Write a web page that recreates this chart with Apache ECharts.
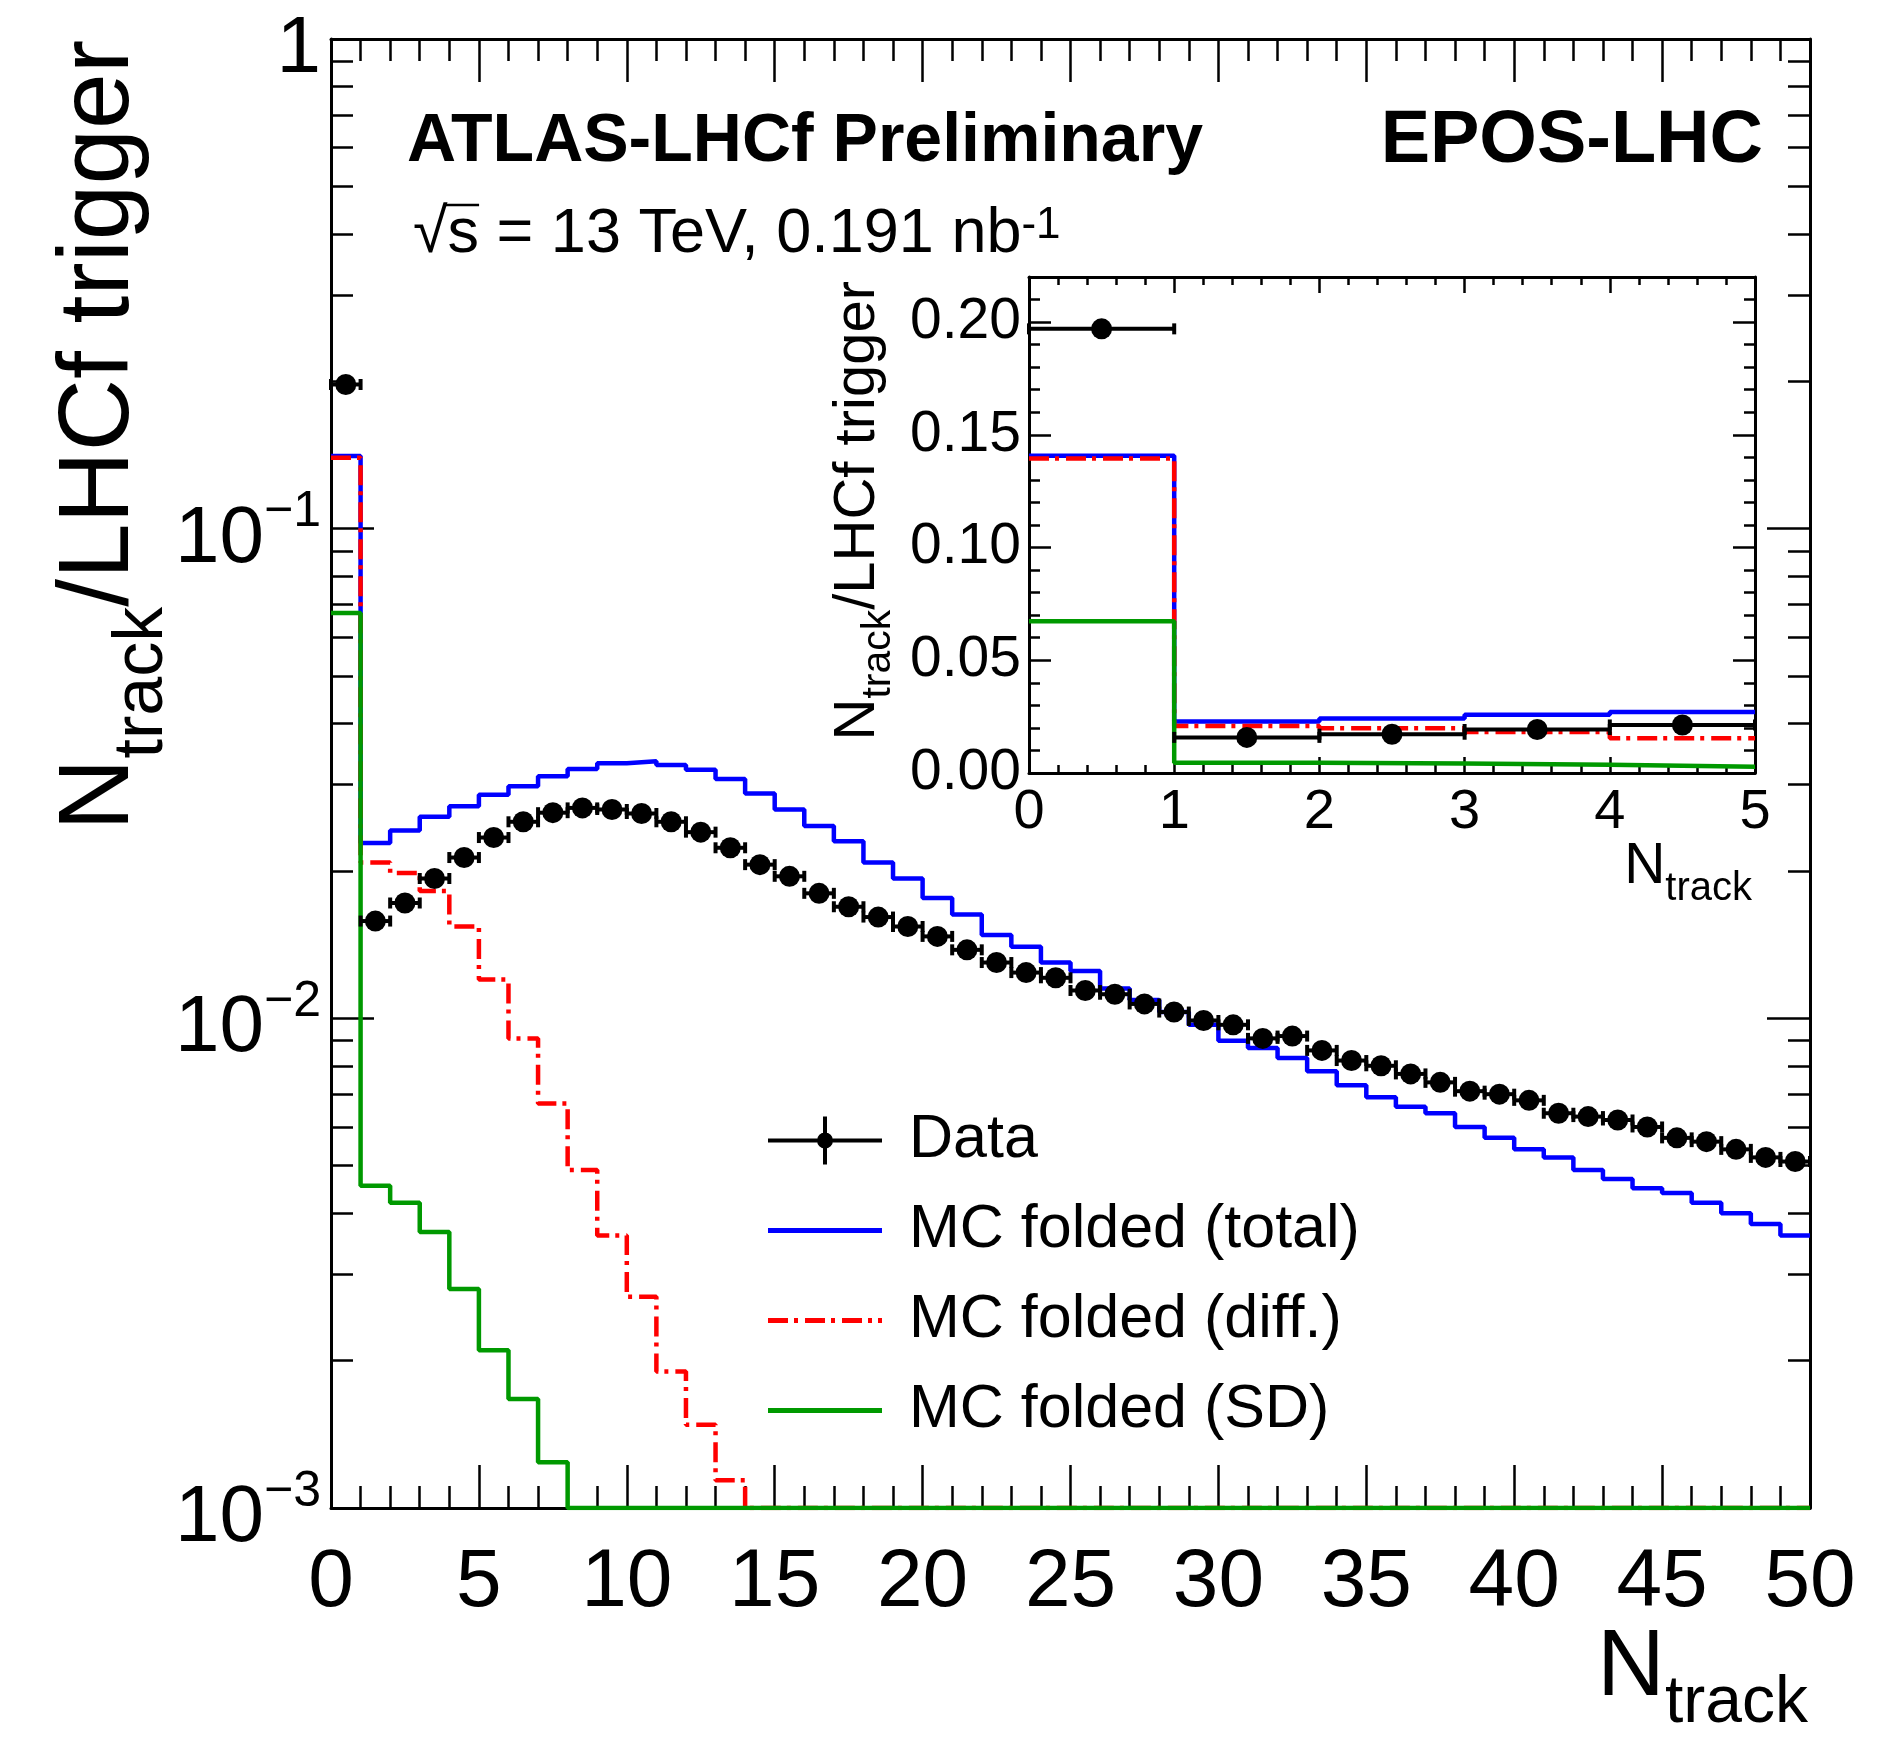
<!DOCTYPE html>
<html>
<head>
<meta charset="utf-8">
<title>ATLAS-LHCf Ntrack</title>
<script src="https://cdn.jsdelivr.net/npm/echarts@6.0.0/dist/echarts.min.js"></script>
<style>
  html, body { margin: 0; padding: 0; background: #fff; }
  #main { width: 1896px; height: 1737px; }
</style>
</head>
<body>
<div id="main"></div>
<script>
// one value per unit-width bin, Ntrack = 0 .. 49
var dataVals = [0.197, 0.0158, 0.0172, 0.0193, 0.0213, 0.0234, 0.0252, 0.0263, 0.0269, 0.0267,
  0.0262, 0.0252, 0.0240, 0.0223, 0.0206, 0.0195, 0.0180, 0.0169, 0.0161, 0.0154,
  0.0147, 0.0138, 0.0130, 0.0124, 0.0121, 0.0114, 0.0112, 0.0107, 0.0103, 0.0099,
  0.0097, 0.0091, 0.0092, 0.0086, 0.0082, 0.0080, 0.0077, 0.0074, 0.0071, 0.0070,
  0.0068, 0.0064, 0.0063, 0.0062, 0.0060, 0.0057, 0.0056, 0.0054, 0.0052, 0.0051];

var mcTotal = [0.1407, 0.0228, 0.0242, 0.0258, 0.0271, 0.0286, 0.0298, 0.0312, 0.0323, 0.0332,
  0.0335, 0.0329, 0.0322, 0.0308, 0.0288, 0.0267, 0.0247, 0.0230, 0.0208, 0.0193,
  0.0176, 0.0163, 0.0148, 0.0140, 0.0130, 0.0125, 0.0115, 0.0109, 0.0103, 0.0097,
  0.0090, 0.0087, 0.0083, 0.0078, 0.0073, 0.0069, 0.0066, 0.0064, 0.0060, 0.0057,
  0.0054, 0.0052, 0.0049, 0.0047, 0.0045, 0.0044, 0.0042, 0.0040, 0.0038, 0.0036];

// bins below the axis floor are drawn on the 1e-3 line, as in the picture
var mcDiff = [0.1395, 0.0208, 0.0198, 0.0182, 0.0154, 0.0120, 0.0091, 0.0067, 0.0049, 0.0036,
  0.0027, 0.0019, 0.00148, 0.00114, 0.001, 0.001, 0.001, 0.001, 0.001, 0.001,
  0.001, 0.001, 0.001, 0.001, 0.001, 0.001, 0.001, 0.001, 0.001, 0.001,
  0.001, 0.001, 0.001, 0.001, 0.001, 0.001, 0.001, 0.001, 0.001, 0.001,
  0.001, 0.001, 0.001, 0.001, 0.001, 0.001, 0.001, 0.001, 0.001, 0.001];

var mcSD = [0.0673, 0.00455, 0.0042, 0.00366, 0.0028, 0.0021, 0.00167, 0.00124, 0.001, 0.001,
  0.001, 0.001, 0.001, 0.001, 0.001, 0.001, 0.001, 0.001, 0.001, 0.001,
  0.001, 0.001, 0.001, 0.001, 0.001, 0.001, 0.001, 0.001, 0.001, 0.001,
  0.001, 0.001, 0.001, 0.001, 0.001, 0.001, 0.001, 0.001, 0.001, 0.001,
  0.001, 0.001, 0.001, 0.001, 0.001, 0.001, 0.001, 0.001, 0.001, 0.001];

var mainBins = 50;
var insetBins = 5;

// tick positions
var yMajorTicks = [0.001, 0.01, 0.1, 1];
var yMinorTicks = [0.002, 0.003, 0.004, 0.005, 0.006, 0.007, 0.008, 0.009,
  0.02, 0.03, 0.04, 0.05, 0.06, 0.07, 0.08, 0.09,
  0.2, 0.3, 0.4, 0.5, 0.6, 0.7, 0.8, 0.9];
var insetYMajor = [0, 0.05, 0.10, 0.15, 0.20];
var insetYMinor = [0.01, 0.02, 0.03, 0.04, 0.06, 0.07, 0.08, 0.09, 0.11, 0.12, 0.13, 0.14,
  0.16, 0.17, 0.18, 0.19, 0.21];

var FONT = '"Liberation Sans", Arial, Helvetica, sans-serif';
var BLACK = '#000';
var BLUE = '#0000ff';
var RED = '#ff0000';
var GREEN = '#009900';
var DASHDOT = [20, 6, 4, 7];
var LINE_W = 4.5;

var MAIN_RECT = { left: 331, top: 39, width: 1479, height: 1469 };
var INSET_RECT = { left: 1029, top: 277, width: 726, height: 496 };

// histogram outline: one point per left bin edge + closing right edge
function histPoints(vals, n) {
  var pts = [];
  for (var i = 0; i < n; i++) pts.push([i, vals[i]]);
  pts.push([n, vals[n - 1]]);
  return pts;
}
// [lowEdge, highEdge, value]
function errPoints(vals, n) {
  var pts = [];
  for (var i = 0; i < n; i++) pts.push([i, i + 1, vals[i]]);
  return pts;
}

function renderData(params, api) {
  var v = api.value(2);
  var a = api.coord([api.value(0), v]);
  var b = api.coord([api.value(1), v]);
  var cx = (a[0] + b[0]) / 2;
  return {
    type: 'group',
    children: [
      { type: 'line', shape: { x1: a[0], y1: a[1], x2: b[0], y2: b[1] }, style: { stroke: BLACK, lineWidth: 4 } },
      { type: 'rect', shape: { x: a[0] - 2, y: a[1] - 5.5, width: 4, height: 11 }, style: { fill: BLACK } },
      { type: 'rect', shape: { x: b[0] - 2, y: b[1] - 5.5, width: 4, height: 11 }, style: { fill: BLACK } },
      { type: 'circle', shape: { cx: cx, cy: a[1], r: 10.5 }, style: { fill: BLACK } }
    ]
  };
}

function decadeLabel(v) {
  var e = Math.round(Math.log10(v));
  if (e === 0) return '{b|1}';
  return '{b|10}{s|\u2212' + (-e) + '}';
}

function gridDef(r) {
  return { left: r.left, top: r.top, width: r.width, height: r.height, outerBoundsMode: 'none', containLabel: false };
}

var frameLine = { show: true, onZero: false, lineStyle: { color: BLACK, width: 3 } };
var tickStyle = { color: BLACK, width: 2.5 };

function xAxisDef(grid, pos, max, interval, tickLen, minorLen, label) {
  return {
    type: 'value', gridIndex: grid, position: pos, min: 0, max: max, interval: interval,
    axisLine: frameLine,
    axisTick: { show: true, inside: true, length: tickLen, lineStyle: tickStyle },
    minorTick: { show: true, splitNumber: 5, length: minorLen, lineStyle: tickStyle },
    axisLabel: label || { show: false },
    splitLine: { show: false },
    minorSplitLine: { show: false }
  };
}

function hiddenX(grid, max) {
  return { type: 'value', gridIndex: grid, min: 0, max: max, show: false };
}

function yAxisDef(grid, pos, isLog, ticks, tickLen, label, showLine) {
  var ax = {
    type: isLog ? 'log' : 'value', gridIndex: grid, position: pos,
    min: isLog ? 0.001 : 0, max: isLog ? 1 : 0.22,
    axisLine: showLine ? frameLine : { show: false, onZero: false },
    axisTick: { show: true, inside: true, length: tickLen, lineStyle: tickStyle, customValues: ticks },
    axisLabel: label || { show: false },
    splitLine: { show: false },
    minorTick: { show: false }
  };
  if (isLog) ax.logBase = 10;
  return ax;
}

var mainXLabel = { show: true, fontSize: 82, fontFamily: FONT, color: BLACK, margin: 34 };
var insetXLabel = { show: true, fontSize: 56, fontFamily: FONT, color: BLACK, margin: 12 };
var mainYLabel = {
  show: true, customValues: yMajorTicks, margin: 10, color: BLACK,
  formatter: decadeLabel,
  rich: {
    b: { fontSize: 80, fontFamily: FONT, color: BLACK, padding: [22, 0, 0, 0] },
    s: { fontSize: 50, fontFamily: FONT, color: BLACK, verticalAlign: 'top', padding: [10, 0, 0, 0] }
  }
};
var insetYLabel = {
  show: true, customValues: insetYMajor, margin: 8, color: BLACK,
  fontSize: 57, fontFamily: FONT,
  formatter: function (v) { return v.toFixed(2); }
};

var ICON_DATA = 'path://M0,22H114V26H0Z M55,0H59V48H55Z M49,24A8,8 0 1,1 65,24A8,8 0 1,1 49,24Z';
var ICON_LINE = 'path://M0,21.5H114V26.5H0Z';
var ICON_DASHDOT = 'path://M0,21.5H20V26.5H0Z M26,21.5H30V26.5H26Z M37,21.5H57V26.5H37Z M63,21.5H67V26.5H63Z M74,21.5H94V26.5H74Z M100,21.5H104V26.5H100Z M110,21.5H114V26.5H110Z';

function histSeries(name, vals, n, color, dashed, xi, yi, z) {
  return {
    name: name, type: 'line', xAxisIndex: xi, yAxisIndex: yi,
    data: histPoints(vals, n), step: 'end', symbol: 'none', z: z,
    color: color,
    itemStyle: { color: color },
    lineStyle: { color: color, width: LINE_W, type: dashed ? DASHDOT : 'solid' }
  };
}

// small text metrics for the sqrt bar
var measure = document.createElement('canvas').getContext('2d');
measure.font = '63px ' + FONT;
var sqrtW = measure.measureText('\u221a').width;
var sW = measure.measureText('s').width;
var energyX = 413;

var chart = echarts.init(document.getElementById('main'), null, { renderer: 'canvas' });

var option = {
  backgroundColor: '#fff',
  animation: false,
  grid: [gridDef(MAIN_RECT), gridDef(INSET_RECT), gridDef(MAIN_RECT), gridDef(INSET_RECT)],
  xAxis: [
    xAxisDef(0, 'bottom', 50, 5, 43, 22, mainXLabel),
    xAxisDef(0, 'top', 50, 5, 43, 22, null),
    xAxisDef(1, 'bottom', 5, 1, 16, 8, insetXLabel),
    xAxisDef(1, 'top', 5, 1, 16, 8, null),
    hiddenX(2, 50),
    hiddenX(3, 5)
  ],
  yAxis: [
    // major ticks, one axis per side
    yAxisDef(0, 'left', true, yMajorTicks, 43, mainYLabel, true),
    yAxisDef(0, 'right', true, yMajorTicks, 43, null, true),
    yAxisDef(1, 'left', false, insetYMajor, 22, insetYLabel, true),
    yAxisDef(1, 'right', false, insetYMajor, 22, null, true),
    // minor ticks on overlay grids with the same rectangles
    yAxisDef(2, 'left', true, yMinorTicks, 22, null, false),
    yAxisDef(2, 'right', true, yMinorTicks, 22, null, false),
    yAxisDef(3, 'left', false, insetYMinor, 11, null, false),
    yAxisDef(3, 'right', false, insetYMinor, 11, null, false)
  ],
  legend: {
    orient: 'vertical', left: 763, top: 1105,
    itemWidth: 114, itemHeight: 48, itemGap: 29,
    selectedMode: false,
    textStyle: { fontSize: 61, fontFamily: FONT, color: BLACK, padding: [0, 0, 0, 22] },
    itemStyle: { borderWidth: 0 },
    data: [
      { name: 'Data', icon: ICON_DATA, itemStyle: { color: BLACK } },
      { name: 'MC folded (total)', icon: ICON_LINE, itemStyle: { color: BLUE } },
      { name: 'MC folded (diff.)', icon: ICON_DASHDOT, itemStyle: { color: RED } },
      { name: 'MC folded (SD)', icon: ICON_LINE, itemStyle: { color: GREEN } }
    ]
  },
  series: [
    histSeries('MC folded (total)', mcTotal, mainBins, BLUE, false, 0, 0, 2),
    histSeries('MC folded (diff.)', mcDiff, mainBins, RED, true, 0, 0, 3),
    histSeries('MC folded (SD)', mcSD, mainBins, GREEN, false, 0, 0, 4),
    {
      name: 'Data', type: 'custom', xAxisIndex: 0, yAxisIndex: 0, z: 5,
      itemStyle: { color: BLACK },
      data: errPoints(dataVals, mainBins),
      encode: { x: [0, 1], y: 2 },
      renderItem: renderData
    },
    histSeries('MC folded (total)', mcTotal, insetBins, BLUE, false, 2, 2, 2),
    histSeries('MC folded (diff.)', mcDiff, insetBins, RED, true, 2, 2, 3),
    histSeries('MC folded (SD)', mcSD, insetBins, GREEN, false, 2, 2, 4),
    {
      name: 'Data', type: 'custom', xAxisIndex: 2, yAxisIndex: 2, z: 5,
      itemStyle: { color: BLACK },
      data: errPoints(dataVals, insetBins),
      encode: { x: [0, 1], y: 2 },
      renderItem: renderData
    }
  ],
  graphic: [
    {
      type: 'text', x: 407, y: 142, z: 10,
      style: { text: 'ATLAS-LHCf Preliminary', font: 'bold 68px ' + FONT, fill: BLACK, align: 'left', verticalAlign: 'middle' }
    },
    {
      type: 'text', x: 1763, y: 142, z: 10,
      style: { text: 'EPOS-LHC', font: 'bold 74px ' + FONT, fill: BLACK, align: 'right', verticalAlign: 'middle' }
    },
    {
      type: 'text', x: energyX, y: 235, z: 10,
      style: {
        text: '{t|\u221as = 13 TeV, 0.191 nb}{p|-1}', align: 'left', verticalAlign: 'middle', fill: BLACK,
        rich: {
          t: { font: '63px ' + FONT, fill: BLACK },
          p: { font: '44px ' + FONT, fill: BLACK, verticalAlign: 'top' }
        }
      }
    },
    {
      type: 'line', z: 10,
      shape: { x1: energyX + sqrtW * 0.9, y1: 205, x2: energyX + sqrtW + sW, y2: 205 },
      style: { stroke: BLACK, lineWidth: 2.5 }
    },
    {
      // main y title
      type: 'text', x: 50, y: 40, rotation: Math.PI / 2, z: 10,
      style: {
        text: '{n|N}{s|track}{n|/LHCf trigger}', align: 'right', verticalAlign: 'top', fill: BLACK,
        rich: {
          n: { font: '100px ' + FONT, fill: BLACK, verticalAlign: 'top' },
          s: { font: '70px ' + FONT, fill: BLACK, verticalAlign: 'bottom', padding: [58, 0, 0, 0] }
        }
      }
    },
    {
      // main x title
      type: 'text', x: 1808, y: 1622, z: 10,
      style: {
        text: '{n|N}{s|track}', align: 'right', verticalAlign: 'top', fill: BLACK,
        rich: {
          n: { font: '94px ' + FONT, fill: BLACK, verticalAlign: 'top' },
          s: { font: '66px ' + FONT, fill: BLACK, verticalAlign: 'bottom', padding: [49, 0, 0, 0] }
        }
      }
    },
    {
      // inset y title
      type: 'text', x: 829, y: 281, rotation: Math.PI / 2, z: 10,
      style: {
        text: '{n|N}{s|track}{n|/LHCf trigger}', align: 'right', verticalAlign: 'top', fill: BLACK,
        rich: {
          n: { font: '58px ' + FONT, fill: BLACK, verticalAlign: 'top' },
          s: { font: '41px ' + FONT, fill: BLACK, verticalAlign: 'bottom', padding: [29, 0, 0, 0] }
        }
      }
    },
    {
      // inset x title
      type: 'text', x: 1752, y: 839, z: 10,
      style: {
        text: '{n|N}{s|track}', align: 'right', verticalAlign: 'top', fill: BLACK,
        rich: {
          n: { font: '57px ' + FONT, fill: BLACK, verticalAlign: 'top' },
          s: { font: '40px ' + FONT, fill: BLACK, verticalAlign: 'bottom', padding: [30, 0, 0, 0] }
        }
      }
    }
  ]
};

chart.setOption(option);
</script>
</body>
</html>
